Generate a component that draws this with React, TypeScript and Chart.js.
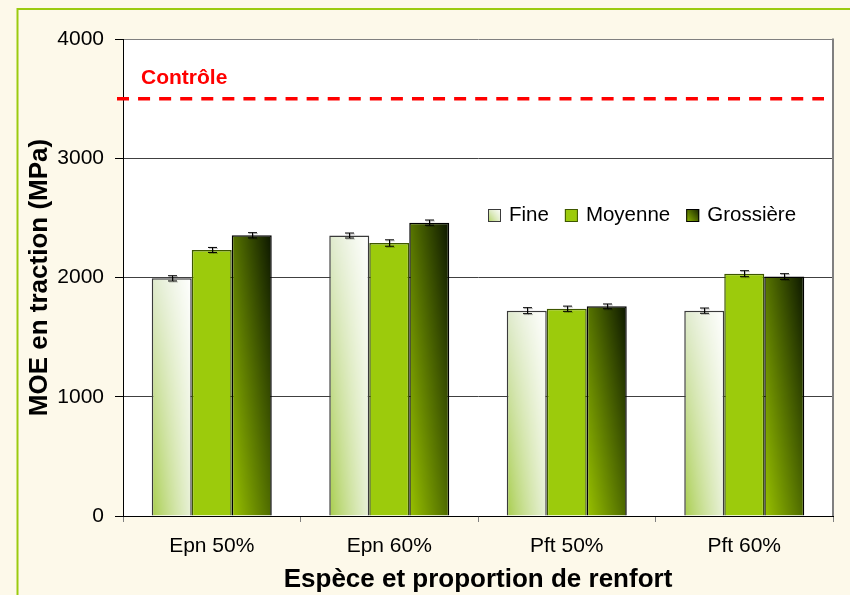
import React, { useEffect, useRef } from 'react';
import { Chart, registerables } from 'chart.js';

Chart.register(...registerables);

// ---------------- data ----------------
const categories = ['Epn 50%', 'Epn 60%', 'Pft 50%', 'Pft 60%'];
const seriesNames = ['Fine', 'Moyenne', 'Grossière'];
const fineValues = [1993, 2352, 1722, 1722];
const moyenneValues = [2231, 2289, 1738, 2032];
const grossiereValues = [2354, 2460, 1758, 2008];
const fineErrors = [22, 21, 25, 22];
const moyenneErrors = [21, 27, 22, 25];
const grossiereErrors = [22, 22, 20, 24];
const controlValue = 3500;
const controlLabel = 'Contrôle';
const yMin = 0;
const yMax = 4000;
const yStep = 1000;
const xTitle = 'Espèce et proportion de renfort';
const yTitle = 'MOE en traction (MPa)';

// ---------------- styles ----------------
const FONT = '"Liberation Sans", Arial, sans-serif';
const CAT_PCT = 0.676;
const PW = 48;
const PH = 96;

type RGB = [number, number, number];
const hex = (h: string): RGB => [
  parseInt(h.slice(1, 3), 16),
  parseInt(h.slice(3, 5), 16),
  parseInt(h.slice(5, 7), 16),
];

function makeGradientCanvas(tl: string, tr: string, bl: string, br: string, uPow = 1): HTMLCanvasElement {
  const c = document.createElement('canvas');
  c.width = PW;
  c.height = PH;
  const g = c.getContext('2d')!;
  const img = g.createImageData(PW, PH);
  const TL = hex(tl), TR = hex(tr), BL = hex(bl), BR = hex(br);
  for (let j = 0; j < PH; j++) {
    const v = j / (PH - 1);
    for (let i = 0; i < PW; i++) {
      const u = Math.pow(i / (PW - 1), uPow);
      const o = (j * PW + i) * 4;
      for (let k = 0; k < 3; k++) {
        const top = TL[k] + (TR[k] - TL[k]) * u;
        const bot = BL[k] + (BR[k] - BL[k]) * u;
        img.data[o + k] = Math.round(top + (bot - top) * v);
      }
      img.data[o + 3] = 255;
    }
  }
  g.putImageData(img, 0, 0);
  return c;
}

type FillSpec = { solid?: string; canvas?: HTMLCanvasElement; fallback: string };
let FILLS: FillSpec[] | null = null;
function getFills(): FillSpec[] {
  if (!FILLS) {
    FILLS = [
      { canvas: makeGradientCanvas('#dce8c8', '#ffffff', '#a3cb42', '#e9f1da', 0.8), fallback: '#d8e8b8' },
      { solid: '#9CCB0C', fallback: '#9CCB0C' },
      { canvas: makeGradientCanvas('#5a7800', '#0b1500', '#9ac300', '#4c6800', 1), fallback: '#5a7800' },
    ];
  }
  return FILLS;
}
const borderColors = ['#3a3a3a', '#3d5600', '#000000'];

function patternFor(chartCtx: CanvasRenderingContext2D, spec: FillSpec, left: number, top: number, w: number, h: number) {
  if (spec.solid) return spec.solid;
  const pat = chartCtx.createPattern(spec.canvas!, 'no-repeat');
  if (!pat) return spec.fallback;
  pat.setTransform(new DOMMatrix([(w + 2) / PW, 0, 0, (h + 2) / PH, left - 1, top - 1]));
  return pat;
}

const makeBg = (k: number) => (ctx: any) => {
  const spec = getFills()[k];
  if (spec.solid) return spec.solid;
  const chart = ctx.chart;
  const xs = chart.scales?.x;
  const ys = chart.scales?.y;
  if (ctx.type !== 'data' || !xs || !ys || !chart.chartArea || ctx.raw == null) return spec.fallback;
  const catW = (xs.right - xs.left) / categories.length;
  const center = xs.getPixelForValue(ctx.dataIndex);
  const size = catW * CAT_PCT;
  const bw = size / 3;
  const left = center - size / 2 + bw * k;
  const top = ys.getPixelForValue(ctx.raw);
  const base = ys.getPixelForValue(0);
  return patternFor(chart.ctx, spec, left, top, bw, base - top);
};

const errorSets = [fineErrors, moyenneErrors, grossiereErrors];

const decoPlugin = {
  id: 'deco',
  beforeDraw(chart: any) {
    const { ctx, width, height, chartArea: a } = chart;
    ctx.save();
    ctx.fillStyle = '#FDF9EA';
    ctx.fillRect(0, 0, width, height);
    ctx.strokeStyle = '#9BCB10';
    ctx.lineWidth = 2;
    ctx.beginPath();
    ctx.moveTo(17.5, height + 5);
    ctx.lineTo(17.5, 9);
    ctx.lineTo(width + 5, 9);
    ctx.stroke();
    ctx.fillStyle = '#ffffff';
    ctx.fillRect(a.left, a.top, a.right - a.left, a.bottom - a.top);
    ctx.restore();
  },
  afterDatasetsDraw(chart: any) {
    const { ctx, chartArea: a } = chart;
    const ys = chart.scales.y;
    ctx.save();
    // error bars
    chart.data.datasets.forEach((ds: any, di: number) => {
      const meta = chart.getDatasetMeta(di);
      meta.data.forEach((el: any, i: number) => {
        const v = ds.data[i];
        const e = errorSets[di][i];
        const x = Math.round(el.x) + 0.5;
        const y1 = ys.getPixelForValue(v + e);
        const y2 = ys.getPixelForValue(v - e);
        ctx.strokeStyle = 'rgba(0,0,0,0.25)';
        ctx.lineWidth = 1;
        ctx.beginPath();
        ctx.moveTo(x + 1, y1 + 1);
        ctx.lineTo(x + 1, y2 + 1);
        ctx.moveTo(x - 3.5, y1 + 1);
        ctx.lineTo(x + 5.5, y1 + 1);
        ctx.moveTo(x - 3.5, y2 + 1);
        ctx.lineTo(x + 5.5, y2 + 1);
        ctx.stroke();
        ctx.strokeStyle = '#000';
        ctx.beginPath();
        ctx.moveTo(x, y1);
        ctx.lineTo(x, y2);
        ctx.moveTo(x - 4.5, y1);
        ctx.lineTo(x + 4.5, y1);
        ctx.moveTo(x - 4.5, y2);
        ctx.lineTo(x + 4.5, y2);
        ctx.stroke();
      });
    });
    // control line
    const yc = ys.getPixelForValue(controlValue);
    ctx.strokeStyle = '#FF0000';
    ctx.lineWidth = 3.5;
    ctx.setLineDash([12, 9.07]);
    ctx.beginPath();
    ctx.moveTo(a.left - 6, yc);
    ctx.lineTo(a.right - 9, yc);
    ctx.stroke();
    ctx.setLineDash([]);
    ctx.fillStyle = '#FF0000';
    ctx.font = `bold 21px ${FONT}`;
    ctx.textBaseline = 'middle';
    ctx.textAlign = 'left';
    ctx.fillText(controlLabel, a.left + 18, yc - 20.5);
    ctx.restore();
  },
  afterDraw(chart: any) {
    const { ctx, chartArea: a } = chart;
    ctx.save();
    // right border of plot
    ctx.strokeStyle = '#808080';
    ctx.lineWidth = 2;
    ctx.beginPath();
    ctx.moveTo(a.right, a.top - 0.5);
    ctx.lineTo(a.right, a.bottom);
    ctx.stroke();
    // legend
    const fills = getFills();
    ctx.font = `20.5px ${FONT}`;
    ctx.textBaseline = 'middle';
    ctx.textAlign = 'left';
    let x = a.left + 365;
    const cy = a.top + 176.5;
    seriesNames.forEach((name, k) => {
      const bx = x, by = cy - 6.5, bs = 13;
      ctx.fillStyle = patternFor(ctx, fills[k], bx, by, bs, bs) as any;
      ctx.fillRect(bx, by, bs, bs);
      ctx.strokeStyle = borderColors[k];
      ctx.lineWidth = 1;
      ctx.strokeRect(bx + 0.5, by + 0.5, bs - 1, bs - 1);
      ctx.fillStyle = '#000';
      const tx = bx + 21;
      ctx.fillText(name, tx, cy);
      x = tx + ctx.measureText(name).width + 16;
    });
    ctx.restore();
  },
};

export default function App() {
  const ref = useRef<HTMLCanvasElement | null>(null);
  useEffect(() => {
    document.body.style.margin = '0';
    const canvas = ref.current!;
    const datasets = [fineValues, moyenneValues, grossiereValues].map((vals, k) => ({
      label: seriesNames[k],
      data: vals,
      backgroundColor: makeBg(k),
      borderColor: borderColors[k],
      borderWidth: 1.5,
      barPercentage: 1,
      categoryPercentage: CAT_PCT,
    }));
    const chart = new Chart(canvas, {
      type: 'bar',
      data: { labels: categories, datasets },
      plugins: [decoPlugin],
      options: {
        responsive: false,
        animation: false,
        devicePixelRatio: 1,
        events: [],
        layout: { padding: { left: 0, top: 39, right: 17, bottom: 0 } },
        plugins: { legend: { display: false }, tooltip: { enabled: false } },
        scales: {
          x: {
            type: 'category',
            offset: true,
            grid: { offset: true, drawOnChartArea: false, drawTicks: true, tickLength: 6, color: '#808080' },
            border: { color: '#000000', width: 1 },
            ticks: { color: '#000', padding: 12, font: { family: FONT, size: 21 } },
            title: {
              display: true,
              text: xTitle,
              color: '#000',
              font: { family: FONT, size: 26, weight: 'bold' },
              padding: { top: 0, bottom: 0 },
            },
            afterFit: (s: any) => {
              s.height = 79;
            },
          },
          y: {
            min: yMin,
            max: yMax,
            ticks: {
              stepSize: yStep,
              color: '#000',
              padding: 11,
              font: { family: FONT, size: 21 },
              callback: (v: any) => String(v),
            },
            grid: {
              color: (c: any) => (c.tick && c.tick.value === yMax ? '#808080' : '#404040'),
              tickColor: '#000',
              tickLength: 8,
              lineWidth: 1,
            },
            border: { color: '#000000', width: 1 },
            title: {
              display: true,
              text: yTitle,
              color: '#000',
              font: { family: FONT, size: 26, weight: 'bold' },
              padding: { top: 24, bottom: 0 },
            },
            afterFit: (s: any) => {
              s.width = 123;
            },
          },
        },
      } as any,
    });
    return () => chart.destroy();
  }, []);
  return (
    <div style={{ position: 'fixed', left: 0, top: 0, width: 850, height: 595 }}>
      <canvas ref={ref} width={850} height={595} style={{ display: 'block' }} />
    </div>
  );
}
